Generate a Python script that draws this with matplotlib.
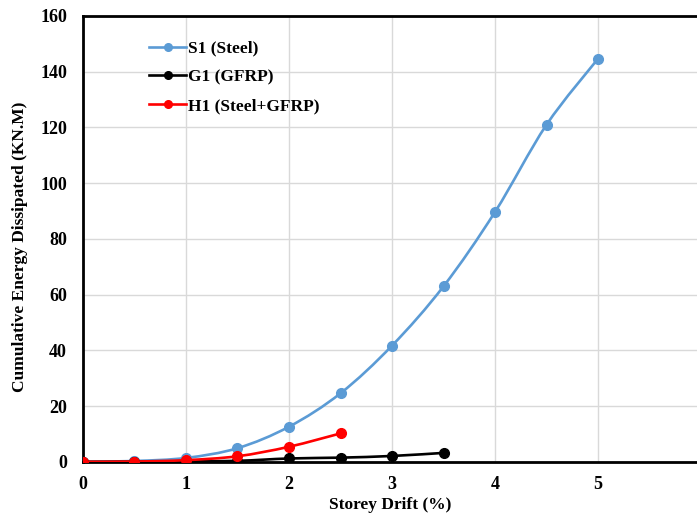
import numpy as np
import matplotlib.pyplot as plt
from matplotlib.path import Path
from matplotlib.patches import PathPatch
from matplotlib.lines import Line2D

plt.rcParams["font.family"] = ["Liberation Serif", "DejaVu Serif"]
plt.rcParams["font.weight"] = "bold"

drift_s1 = [0, 0.5, 1, 1.5, 2, 2.5, 3, 3.5, 4, 4.5, 5]
energy_s1 = [0, 0.3, 1.4, 4.9, 12.6, 24.6, 41.7, 63.0, 89.7, 121.0, 144.7]

drift_g1 = [0, 0.5, 1, 1.5, 2, 2.5, 3, 3.5]
energy_g1 = [0, 0.05, 0.15, 0.35, 1.2, 1.5, 2.1, 3.2]

drift_h1 = [0, 0.5, 1, 1.5, 2, 2.5]
energy_h1 = [0, 0.1, 0.6, 2.0, 5.4, 10.2]

SERIES = [
    ("S1 (Steel)", drift_s1, energy_s1, "#5b9bd5"),
    ("G1 (GFRP)", drift_g1, energy_g1, "#000000"),
    ("H1 (Steel+GFRP)", drift_h1, energy_h1, "#ff0000"),
]


def smooth_path(x, y):
    # Excel-like smoothed line: cubic Bezier through points (Catmull-Rom)
    pts = np.column_stack([x, y]).astype(float)
    verts = [pts[0]]
    codes = [Path.MOVETO]
    n = len(pts)
    for i in range(n - 1):
        p0 = pts[i - 1] if i > 0 else pts[i]
        p1 = pts[i]
        p2 = pts[i + 1]
        p3 = pts[i + 2] if i + 2 < n else pts[i + 1]
        c1 = p1 + (p2 - p0) / 6.0
        c2 = p2 - (p3 - p1) / 6.0
        verts += [c1, c2, p2]
        codes += [Path.CURVE4] * 3
    return Path(verts, codes)


fig = plt.figure(figsize=(6.97, 5.16), dpi=100)
ax = fig.add_axes([0.119, 0.105, 0.881, 0.864])

for label, x, y, color in SERIES:
    patch = PathPatch(smooth_path(x, y), facecolor="none", edgecolor=color,
                      linewidth=1.9, zorder=3)
    ax.add_patch(patch)
    ax.plot(x, y, linestyle="none", marker="o", markersize=7, color=color, zorder=4)

ax.set_xlim(0, 5.96)
ax.set_ylim(0, 160)
ax.set_xticks([0, 1, 2, 3, 4, 5])
ax.set_yticks(range(0, 161, 20))
ax.grid(True, color="#d9d9d9", linewidth=1.0)
ax.set_axisbelow(True)
ax.tick_params(axis="x", length=0, labelsize=13, pad=10)
ax.tick_params(axis="y", length=0, labelsize=13, pad=11.5)
for lab in ax.get_xticklabels() + ax.get_yticklabels():
    lab.set_fontweight("bold")

for side in ["left", "bottom", "top"]:
    ax.spines[side].set_linewidth(2.0)
    ax.spines[side].set_color("black")
ax.spines["right"].set_visible(False)

ax.set_xlabel("Storey Drift (%)", fontsize=12.5, fontweight="bold", labelpad=3)
ax.set_ylabel("Cumulative Energy Dissipated (KN.M)", fontsize=12.5, fontweight="bold")
ax.yaxis.set_label_coords(-0.089, 0.482)

handles = [Line2D([0], [0], color=c, marker="o", markersize=5.5, linewidth=1.9)
           for _, _, _, c in SERIES]
ax.legend(handles, [s[0] for s in SERIES], loc="upper left", bbox_to_anchor=(0.082, 0.98),
          frameon=False, handlelength=2.15, handletextpad=0.1,
          labelspacing=0.72, prop={"weight": "bold", "size": 12.5})

fig.savefig("out.png", dpi=100)
